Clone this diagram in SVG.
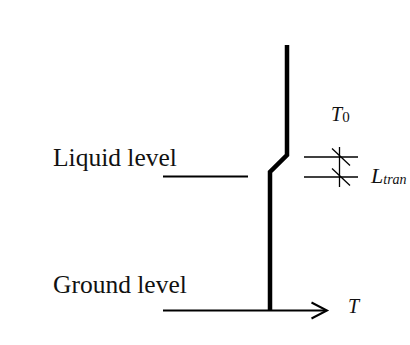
<svg xmlns="http://www.w3.org/2000/svg" width="410" height="345" viewBox="0 0 410 345">
  <style>
    .lbl { font-family: "Liberation Serif", "Times New Roman", serif; fill: #111; }
    .it { font-style: italic; }
    .thin { stroke: #000; stroke-width: 2; fill: none; }
    .dim { stroke: #000; stroke-width: 1.3; fill: none; }
    .thick { stroke: #000; stroke-width: 4.5; fill: none; stroke-linejoin: miter; }
  </style>
  <rect width="410" height="345" fill="#fff"/>
  <g id="connectors">
    <path id="profile" class="thick" d="M287 45 V155 L270 172 V310"/>
    <line id="liquid-line" class="thin" x1="163" y1="176.5" x2="248" y2="176.5"/>
    <line id="ground-axis" class="thin" x1="163" y1="310.5" x2="326" y2="310.5"/>
    <polyline id="axis-arrow" class="thin" points="311.5,302.5 327,310.5 311.5,318.5"/>
    <g id="dimension">
      <line class="dim" x1="304" y1="157" x2="358" y2="157"/>
      <line class="dim" x1="304" y1="177" x2="358" y2="177"/>
      <line class="dim" x1="339.5" y1="147" x2="339.5" y2="187"/>
      <line class="dim" x1="332" y1="148.5" x2="350" y2="165.5"/>
      <line class="dim" x1="332" y1="168.5" x2="350" y2="185.5"/>
    </g>
  </g>
  <g id="liquid-level">
    <text class="lbl" x="53" y="166" font-size="25.5">Liquid level</text>
  </g>
  <g id="ground-level">
    <text class="lbl" x="53" y="293" font-size="25.5">Ground level</text>
  </g>
  <g id="T0">
    <text class="lbl" x="331" y="121" font-size="20"><tspan class="it">T</tspan><tspan font-size="15" dy="1">0</tspan></text>
  </g>
  <g id="Ltran">
    <text class="lbl" x="371" y="183" font-size="22"><tspan class="it">L</tspan><tspan class="it" font-size="14" dy="1">tran</tspan></text>
  </g>
  <g id="T-axis">
    <text class="lbl it" x="348" y="313" font-size="20">T</text>
  </g>
</svg>
